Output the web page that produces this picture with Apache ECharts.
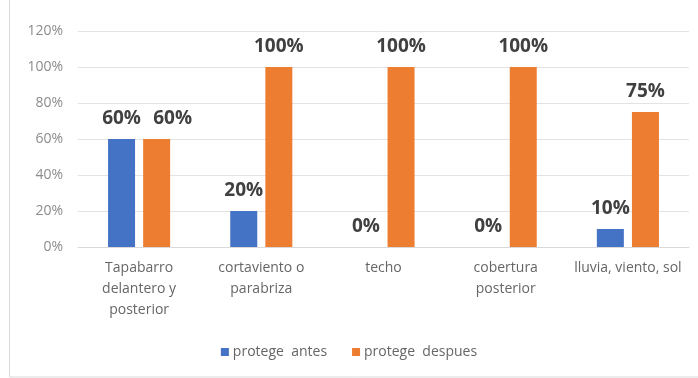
<!DOCTYPE html>
<html>
<head>
<meta charset="utf-8">
<script src="https://cdn.jsdelivr.net/npm/echarts@6/dist/echarts.min.js"></script>
<style>
html,body{margin:0;padding:0;background:#fff;}
#c{width:698px;height:378px;}
</style>
</head>
<body>
<div id="c"></div>
<script>
const categories = ['Tapabarro\ndelantero y\nposterior', 'cortaviento o\nparabriza', 'techo', 'cobertura\nposterior', 'lluvia, viento, sol'];
const seriesNames = ['protege  antes', 'protege  despues'];
const antes = [60, 20, 0, 0, 10];
const despues = [60, 100, 100, 100, 75];
const yMax = 120;
const yInterval = 20;

const font = '"Open Sans", "Liberation Sans", sans-serif';
const chart = echarts.init(document.getElementById('c'), null, {renderer: 'canvas'});
const labelStyle = {
  show: true, position: 'top', distance: 11,
  formatter: p => p.value + '%',
  fontFamily: font, fontWeight: 'bold', fontSize: 19, color: '#404040'
};
// Excel nudged the overlapping first "despues" label to the right
const despuesData = despues.map((v, i) => i === 0 ? {value: v, label: {offset: [16, 0]}} : v);
chart.setOption({
  animation: false,
  backgroundColor: '#ffffff',
  graphic: [{
    type: 'rect', silent: true, z: -1,
    shape: {x: 9.5, y: -2, width: 700, height: 379},
    style: {fill: 'none', stroke: '#d9d9d9', lineWidth: 1}
  }],
  grid: {left: 78, right: 9, top: 31, bottom: 131, containLabel: false},
  legend: {
    data: seriesNames,
    bottom: 14, left: 'center',
    itemWidth: 8, itemHeight: 8, itemGap: 25,
    icon: 'rect',
    textStyle: {fontFamily: font, fontSize: 14, color: '#666666', padding: [0, 0, 0, -1]}
  },
  xAxis: {
    type: 'category',
    data: categories,
    axisLine: {lineStyle: {color: '#d9d9d9'}},
    axisTick: {show: false},
    axisLabel: {interval: 0, margin: 11, fontFamily: font, fontSize: 14, lineHeight: 21, color: '#666666'}
  },
  yAxis: {
    type: 'value', min: 0, max: yMax, interval: yInterval,
    axisLine: {show: false}, axisTick: {show: false},
    splitLine: {lineStyle: {color: '#e3e3e3'}},
    axisLabel: {formatter: '{value}%', margin: 15, fontFamily: font, fontSize: 14, color: '#8c8c8c'}
  },
  series: [
    {name: seriesNames[0], type: 'bar', data: antes, barWidth: 27, barGap: '30%',
     itemStyle: {color: '#4472C4'}, label: labelStyle},
    {name: seriesNames[1], type: 'bar', data: despuesData, barWidth: 27, barGap: '30%',
     itemStyle: {color: '#ED7D31'}, label: labelStyle}
  ]
});
</script>
</body>
</html>
